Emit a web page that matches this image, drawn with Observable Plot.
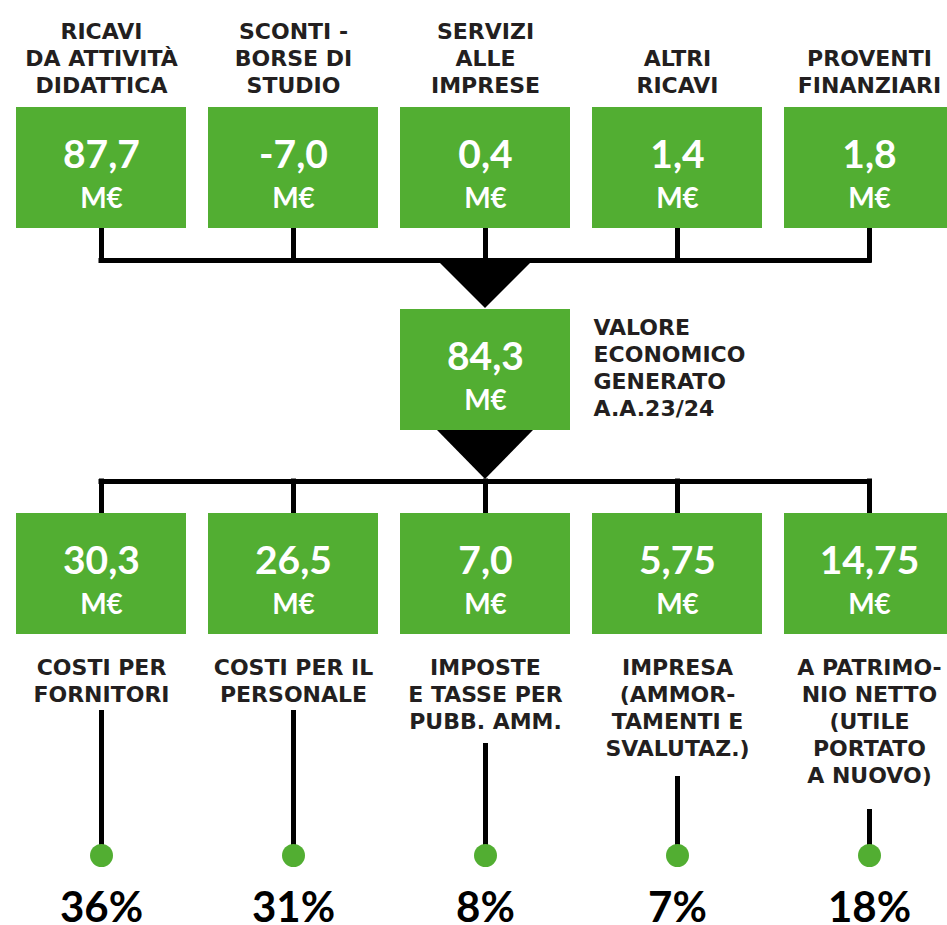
<!DOCTYPE html>
<html><head><meta charset="utf-8">
<script src="https://cdn.jsdelivr.net/npm/d3@7"></script>
<script src="https://cdn.jsdelivr.net/npm/@observablehq/plot@0.6"></script>
<style>html,body{margin:0;padding:0;background:#fff;overflow:hidden}</style>
</head><body><div id="chart"></div>
<script>
// ---- data ----
const inflowLabels = ["RICAVI\nDA ATTIVITÀ\nDIDATTICA", "SCONTI -\nBORSE DI\nSTUDIO", "SERVIZI\nALLE\nIMPRESE", "ALTRI\nRICAVI", "PROVENTI\nFINANZIARI"];
const inflowValues = [87.7, -7.0, 0.4, 1.4, 1.8];
const totalLabel = "VALORE\nECONOMICO\nGENERATO\nA.A.23/24";
const totalValue = 84.3;
const outflowLabels = ["COSTI PER\nFORNITORI", "COSTI PER IL\nPERSONALE", "IMPOSTE\nE TASSE PER\nPUBB. AMM.", "IMPRESA\n(AMMOR-\nTAMENTI E\nSVALUTAZ.)", "A PATRIMO-\nNIO NETTO\n(UTILE\nPORTATO\nA NUOVO)"];
const outflowValues = [30.3, 26.5, 7.0, 5.75, 14.75];
const outflowShares = [36, 31, 8, 7, 18];
const unit = "M€";

// ---- layout ----
const W = 947, H = 925;
const GREEN = "#52ae32", INK = "#231f20";
const FONT = "Lato, 'Open Sans', sans-serif";
const LABEL_FONT = "'DejaVu Sans', sans-serif";
const colX = i => 101 + 192 * i;
const halfW = 85, boxH = 121;
const topY = 107, midY = 309, botY = 513;
const bus1 = 260, bus2 = 481;
const LH = 27, labelSize = 22;
const fmt = v => (Number.isInteger(Math.round(v * 100) / 10) ? v.toFixed(1) : v.toFixed(2)).replace(".", ",");

const topBoxes = inflowValues.map((v, i) => ({label: inflowLabels[i], value: v, cx: colX(i)}));
const midBox = [{label: totalLabel, value: totalValue, cx: colX(2)}];
const botBoxes = outflowValues.map((v, i) => ({label: outflowLabels[i], value: v, share: outflowShares[i], cx: colX(i), n: outflowLabels[i].split("\n").length}));

const tri = (yTop, h) => [{y: yTop, a: colX(2) - 48, b: colX(2) + 48}, {y: yTop + h, a: colX(2), b: colX(2)}];

function boxMarks(data, y0) {
  return [
    Plot.rect(data, {x1: d => d.cx - halfW, x2: d => d.cx + halfW, y1: () => y0, y2: () => y0 + boxH, fill: GREEN}),
    Plot.text(data, {x: "cx", y: () => y0 + 60, text: d => fmt(d.value), lineAnchor: "bottom", fill: "white", fontSize: 39, fontWeight: 700, fontFamily: FONT}),
    Plot.text(data, {x: "cx", y: () => y0 + 100, text: () => unit, lineAnchor: "bottom", fill: "white", fontSize: 28, fontWeight: 700, fontFamily: FONT})
  ];
}

const line = {stroke: "black", strokeWidth: 5, strokeLinecap: "square"};
const labelStyle = {lineAnchor: "bottom", lineHeight: LH / labelSize, fill: INK, fontSize: labelSize, fontWeight: 700, fontFamily: LABEL_FONT};

const chart = Plot.plot({
  width: W, height: H, margin: 0,
  x: {domain: [0, W], range: [0, W], axis: null},
  y: {domain: [0, H], range: [0, H], axis: null},
  style: {background: "white"},
  marks: [
    // connectors
    Plot.ruleX(topBoxes, {x: "cx", y1: () => topY + boxH, y2: () => bus1, ...line}),
    Plot.ruleY([bus1], {x1: colX(0), x2: colX(4), ...line}),
    Plot.areaX(tri(bus1, 48), {y: "y", x1: "a", x2: "b", fill: "black"}),
    Plot.areaX(tri(midY + boxH, 49), {y: "y", x1: "a", x2: "b", fill: "black"}),
    Plot.ruleY([bus2], {x1: colX(0), x2: colX(4), ...line}),
    Plot.ruleX(botBoxes, {x: "cx", y1: () => bus2, y2: () => botY, ...line}),
    Plot.ruleX(botBoxes, {x: "cx", y1: d => 710 + (d.n - 2) * 33, y2: () => 855, stroke: "black", strokeWidth: 5}),
    Plot.dot(botBoxes, {x: "cx", y: () => 855, r: 11.5, fill: GREEN}),
    // boxes
    ...boxMarks(topBoxes, topY),
    ...boxMarks(midBox, midY),
    ...boxMarks(botBoxes, botY),
    // labels
    Plot.text(topBoxes, {x: "cx", y: () => 92, text: "label", ...labelStyle}),
    Plot.text(midBox, {x: () => 593, y: () => 415, text: "label", textAnchor: "start", ...labelStyle}),
    Plot.text(botBoxes, {x: "cx", y: d => 674 + (d.n - 1) * LH, text: "label", ...labelStyle}),
    Plot.text(botBoxes, {x: "cx", y: () => 921, text: d => d.share + "%", lineAnchor: "bottom", fill: "black", fontSize: 42, fontWeight: 700, fontFamily: FONT})
  ]
});
document.getElementById("chart").appendChild(chart);
</script>
</body></html>
